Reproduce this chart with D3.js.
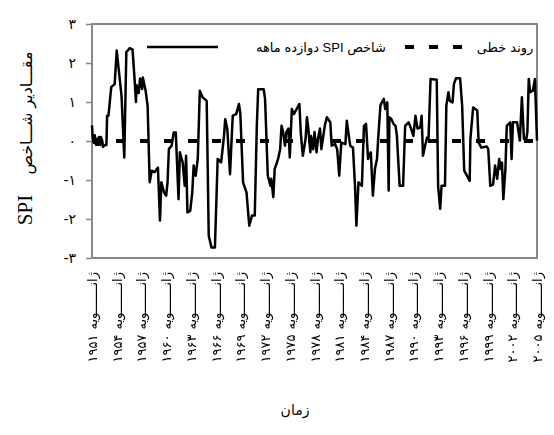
<!DOCTYPE html>
<html lang="fa">
<head>
<meta charset="utf-8">
<script src="https://d3js.org/d3.v7.min.js"></script>
<style>
body { margin: 0; background: #fff; }
text { font-family: "DejaVu Sans", sans-serif; fill: #000; }
.axis .domain { display: none; }
.axis line { stroke: #888; stroke-width: 1.5; }
.axis text { font-size: 14px; }
.xlabels { filter: grayscale(100%); }
</style>
</head>
<body>

<svg width="554" height="435"></svg>

<script>

// months since Jan 1951, read at the turning points of the SPI line
var monthIdx = [0, 1, 3, 4, 6, 7, 9, 10, 12, 13, 15, 16, 19, 21, 22, 24, 28, 33, 36, 43,
  47, 50, 55, 59, 62, 64, 65, 68, 70, 73, 74, 78, 81, 84, 87, 91, 96, 99, 101, 105,
  108, 110, 112, 116, 119, 122, 126, 128, 132, 135, 137, 139, 143, 146, 148, 151, 154, 157, 161, 167,
  170, 174, 179, 183, 188, 192, 194, 197, 201, 204, 205, 210, 214, 216, 220, 225, 229, 233, 237, 240,
  242, 250, 252, 256, 260, 261, 264, 266, 271, 274, 276, 278, 281, 283, 286, 288, 291, 294, 298, 302,
  304, 307, 311, 313, 315, 318, 319, 322, 324, 327, 329, 332, 334, 339, 342, 347, 349, 354, 357, 360,
  363, 369, 371, 374, 376, 380, 383, 385, 388, 393, 396, 399, 402, 406, 409, 412, 415, 417, 420, 422,
  425, 427, 430, 432, 433, 436, 439, 442, 444, 448, 453, 456, 461, 464, 468, 471, 474, 478, 480, 482,
  485, 488, 490, 493, 502, 504, 507, 509, 514, 516, 519, 521, 525, 527, 530, 536, 539, 542, 546, 550,
  551, 555, 561, 563, 567, 575, 577, 580, 584, 587, 590, 593, 595, 597, 599, 602, 604, 609, 611, 613,
  619, 623, 626, 629, 632, 634, 636, 638, 642, 645, 648];

var spi = [0.40, 0.10, -0.05, 0.15, -0.10, 0.05, -0.10, 0.10, -0.10, 0.10, 0.00, -0.15, -0.10, -0.10, 0.65, 0.65, 1.38, 1.46, 2.32, 1.16,
  -0.42, 2.28, 2.38, 2.35, 1.59, 1.00, 1.43, 1.23, 1.60, 1.33, 1.63, 1.30, 0.90, -1.06, -0.76, -0.80, -0.68, -2.04, -1.06, -1.32,
  -1.40, -1.06, -0.20, -0.12, 0.22, 0.22, -1.49, -0.29, -0.55, -1.15, -0.38, -1.83, -1.79, -1.32, -0.63, -0.89, -0.46, 1.29, 1.12, 1.03,
  -2.43, -2.73, -2.73, -0.46, -0.55, 0.09, 0.56, 0.31, -0.85, 0.31, 0.65, 0.69, 0.95, 0.70, -1.06, -1.32, -2.17, -1.91, -1.91, 0.39,
  1.33, 1.33, 1.08, -0.89, -1.15, -0.97, -1.44, -0.72, -0.46, -0.21, 0.39, 0.26, -0.12, 0.23, 0.32, -0.42, 0.82, 0.69, 0.82, 0.95,
  0.22, -0.38, 0.05, 0.61, 0.32, -0.29, 0.13, -0.21, 0.23, -0.29, 0.05, 0.32, -0.21, 0.39, 0.61, 0.48, -0.12, -0.08, -0.21, -0.89,
  -0.04, -0.08, 0.52, 0.13, -0.12, -0.17, -1.15, -2.17, -1.06, -1.15, 0.39, 0.44, -0.46, -0.29, -1.40, -0.72, -0.46, 0.13, 0.91, 0.99,
  1.08, 0.82, 0.99, -1.27, 0.61, 0.56, 0.44, 0.39, 0.13, -1.15, -1.15, 0.39, 0.48, 0.35, 0.13, 0.65, 0.32, 0.35, 0.65, -0.38,
  -0.12, 0.09, 0.05, 1.59, 1.57, -1.15, -1.74, -1.15, -1.15, 0.91, 1.25, 1.03, 0.99, 1.46, 1.61, 1.61, 0.91, -0.76, -0.89, -1.02,
  0.05, 0.86, 0.78, -0.04, -0.17, -0.14, -0.21, -1.15, -1.11, -0.63, -0.97, -0.46, -0.72, -0.55, -1.49, -0.72, 0.39, 0.48, -0.46, 0.48,
  0.48, 0.01, 1.12, 0.05, 0.01, 0.23, 1.59, 1.25, 1.29, 1.59, 0.01];

// linear trend (flat at zero)
var trendMonths = [0, 648];
var trendValues = [0, 0];

var yTicks = [-3, -2, -1, 0, 1, 2, 3];
var yTickLabels = ["-۳", "-۲", "-۱", "۰", "۱", "۲", "۳"];

var xTickMonths = [0, 36, 72, 108, 144, 180, 216, 252, 288, 324, 360, 396, 432, 468, 504, 540, 576, 612, 648];
var xTickYears = ["۱۹۵۱", "۱۹۵۴", "۱۹۵۷", "۱۹۶۰", "۱۹۶۳", "۱۹۶۶", "۱۹۶۹", "۱۹۷۲", "۱۹۷۵", "۱۹۷۸",
  "۱۹۸۱", "۱۹۸۴", "۱۹۸۷", "۱۹۹۰", "۱۹۹۳", "۱۹۹۶", "۱۹۹۹", "۲۰۰۲", "۲۰۰۵"];
var xMonthWord = "ژانـــــــویه";

var legendTrend = "روند خطی";
var legendSpi = "شاخص SPI دوازده ماهه";
var yTitleFa = "مقـــادیر شـــاخص";
var yTitleEn = "SPI";
var xTitle = "زمان";

var svg = d3.select("svg"),
    margin = {top: 24, right: 17, bottom: 177, left: 92},
    width = +svg.attr("width") - margin.left - margin.right,
    height = +svg.attr("height") - margin.top - margin.bottom,
    g = svg.append("g").attr("transform", "translate(" + margin.left + "," + margin.top + ")");

var x = d3.scaleLinear().domain([0, 648]).range([0, width]);
var y = d3.scaleLinear().domain([-3, 3]).range([height, 0]);

g.append("g")
    .attr("class", "axis")
    .call(d3.axisLeft(y)
      .tickValues(yTicks)
      .tickSize(6)
      .tickPadding(10)
      .tickFormat(function(d, i) { return yTickLabels[i]; }));

g.append("rect")
    .attr("width", width)
    .attr("height", height)
    .attr("fill", "none")
    .attr("stroke", "#888")
    .attr("stroke-width", 2);

// trend line
var trend = trendMonths.map(function(m, i) { return [m, trendValues[i]]; });
g.append("path")
    .datum(trend)
    .attr("fill", "none")
    .attr("stroke", "#000")
    .attr("stroke-width", 4)
    .attr("stroke-dasharray", "9,15")
    .attr("d", d3.line().x(function(d) { return x(d[0]); }).y(function(d) { return y(d[1]); }));

// SPI series
var series = monthIdx.map(function(m, i) { return [m, spi[i]]; });
g.append("path")
    .datum(series)
    .attr("fill", "none")
    .attr("stroke", "#000")
    .attr("stroke-width", 2.5)
    .attr("stroke-linejoin", "round")
    .attr("d", d3.line().x(function(d) { return x(d[0]); }).y(function(d) { return y(d[1]); }));

// x labels, rotated
var labTop = margin.top + height + 14;
var xl = svg.append("g").attr("class", "xlabels");
xTickMonths.forEach(function(m, i) {
  var px = margin.left + x(m) + 5;
  var w = xl.append("text")
      .attr("transform", "translate(" + px + "," + labTop + ") rotate(-90)")
      .attr("text-anchor", "end")
      .style("font-size", "13px")
      .text(xMonthWord);
  var len = w.node().getComputedTextLength();
  xl.append("text")
      .attr("transform", "translate(" + px + "," + (labTop + len + 5) + ") rotate(-90)")
      .attr("text-anchor", "end")
      .style("font-size", "13px")
      .style("letter-spacing", "5px")
      .text(xTickYears[i]);
});

svg.append("text")
    .attr("x", 295)
    .attr("y", 415)
    .attr("text-anchor", "middle")
    .style("font-size", "14px")
    .text(xTitle);

// y title
svg.append("text")
    .attr("transform", "translate(32,113) rotate(-90)")
    .attr("text-anchor", "middle")
    .style("font-size", "16px")
    .text(yTitleFa);
svg.append("text")
    .attr("transform", "translate(32,210) rotate(-90)")
    .attr("text-anchor", "middle")
    .style("font-family", "'Liberation Serif', serif")
    .style("font-size", "21px")
    .text(yTitleEn);

// legend
var ly = 47;
svg.append("line")
    .attr("x1", 147).attr("x2", 218).attr("y1", ly).attr("y2", ly)
    .attr("stroke", "#000").attr("stroke-width", 2.5);
svg.append("text")
    .attr("x", 321).attr("y", ly + 5)
    .attr("text-anchor", "middle")
    .attr("direction", "rtl")
    .style("font-family", "'Liberation Sans', 'DejaVu Sans', sans-serif")
    .style("font-size", "13px")
    .text(legendSpi);
svg.append("line")
    .attr("x1", 405).attr("x2", 472).attr("y1", ly).attr("y2", ly)
    .attr("stroke", "#000").attr("stroke-width", 4)
    .attr("stroke-dasharray", "9,15");
svg.append("text")
    .attr("x", 505).attr("y", ly + 5)
    .attr("text-anchor", "middle")
    .style("font-size", "13px")
    .text(legendTrend);

</script>

</body>
</html>
